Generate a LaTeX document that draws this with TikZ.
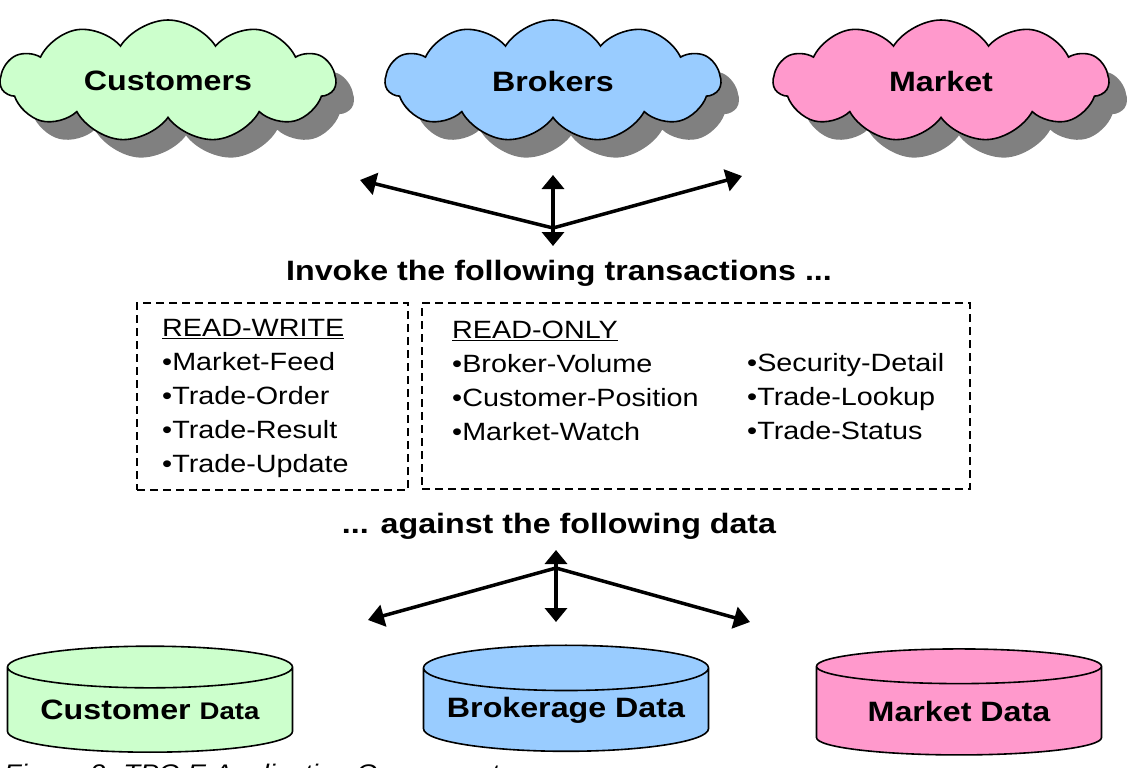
\documentclass[tikz,border=0pt]{standalone}
\usepackage{fontspec}
\setmainfont{Liberation Sans}[FakeStretch=1.15]
\usetikzlibrary{positioning, shapes.symbols, shapes.geometric, arrows.meta, shadows}

\definecolor{custgreen}{RGB}{204,255,204}
\definecolor{brokblue}{RGB}{153,204,255}
\definecolor{mktpink}{RGB}{255,153,204}

\begin{document}
\begin{tikzpicture}[x=1pt, y=-1pt,
    cloudbox/.style={cloud, cloud puffs=11, cloud puff arc=115, cloud ignores aspect, draw, line width=1.6pt,
        minimum width=335pt, minimum height=122pt, inner sep=0pt, font=\fontsize{28}{30}\selectfont\bfseries,
        drop shadow={shadow xshift=18pt, shadow yshift=-18pt, fill=black!50, opacity=1}},
    datastore/.style={cylinder, shape border rotate=90, aspect=0.19, draw, line width=1.6pt,
        minimum width=285pt, minimum height=106pt, inner sep=0pt, font=\fontsize{28}{30}\selectfont\bfseries},
    listbox/.style={draw, line width=2pt, dash pattern=on 8pt off 5pt},
    listtext/.style={anchor=north west, align=left, inner sep=0pt, font=\fontsize{25}{34}\selectfont},
    heading/.style={font=\fontsize{28}{30}\selectfont\bfseries},
    link/.style={line width=3.5pt, -{Triangle[length=16pt,width=22pt]}},
    twoway/.style={line width=3.5pt, {Triangle[length=14pt,width=22pt]}-{Triangle[length=14pt,width=22pt]}}]
    \useasboundingbox (0,0) rectangle (1136,768);

    % Actors
    \node[cloudbox, fill=custgreen] (customers) at (168,81) {Customers};
    \node[cloudbox, fill=brokblue] (brokers) at (553,81) {Brokers};
    \node[cloudbox, fill=mktpink] (market) at (941,81) {Market};

    % Top arrows
    \coordinate (topjoin) at (553,228);
    \coordinate (topleft) at (360,180);
    \coordinate (topright) at (742,176);
    \coordinate (topup) at (553,175);
    \coordinate (topdown) at (553,246);
    \draw[link] (topjoin) -- (topleft);
    \draw[link] (topjoin) -- (topright);
    \draw[twoway] (topdown) -- (topup);

    % Transactions
    \node[heading] (invoke) at (559,273) {Invoke the following transactions ...};
    \node[listbox, minimum width=271pt, minimum height=187pt] (rwbox) at (272.5,396.5) {};
    \node[listbox, minimum width=548pt, minimum height=186pt] (robox) at (696,396) {};
    \node[listtext] (rwlist) at (162,319) {\underline{READ-WRITE}\\•Market-Feed\\•Trade-Order\\•Trade-Result\\•Trade-Update};
    \node[listtext] (rolist) at (452,321) {\underline{READ-ONLY}\\•Broker-Volume\\•Customer-Position\\•Market-Watch};
    \node[listtext] (rolistb) at (747,353) {•Security-Detail\\•Trade-Lookup\\•Trade-Status};
    \node[heading] (against) at (559,526) {... against the following data};

    % Bottom arrows
    \coordinate (botjoin) at (556,568);
    \coordinate (botleft) at (368,620);
    \coordinate (botright) at (750,622);
    \coordinate (botup) at (556,550);
    \coordinate (botdown) at (556,622);
    \draw[link] (botjoin) -- (botleft);
    \draw[link] (botjoin) -- (botright);
    \draw[twoway] (botdown) -- (botup);

    % Data
    \node[datastore, fill=custgreen] (custdata) at (150,710) {Customer {\fontsize{24}{26}\selectfont Data}};
    \node[datastore, fill=brokblue] (brokdata) at (566,710) {Brokerage Data};
    \node[datastore, fill=mktpink] (mktdata) at (959,711) {Market Data};

    \node[anchor=base west, inner sep=0pt, font=\fontsize{24}{26}\selectfont\itshape] (caption) at (4,781) {Figure 2: TPC-E Application Components};
\end{tikzpicture}
\end{document}
